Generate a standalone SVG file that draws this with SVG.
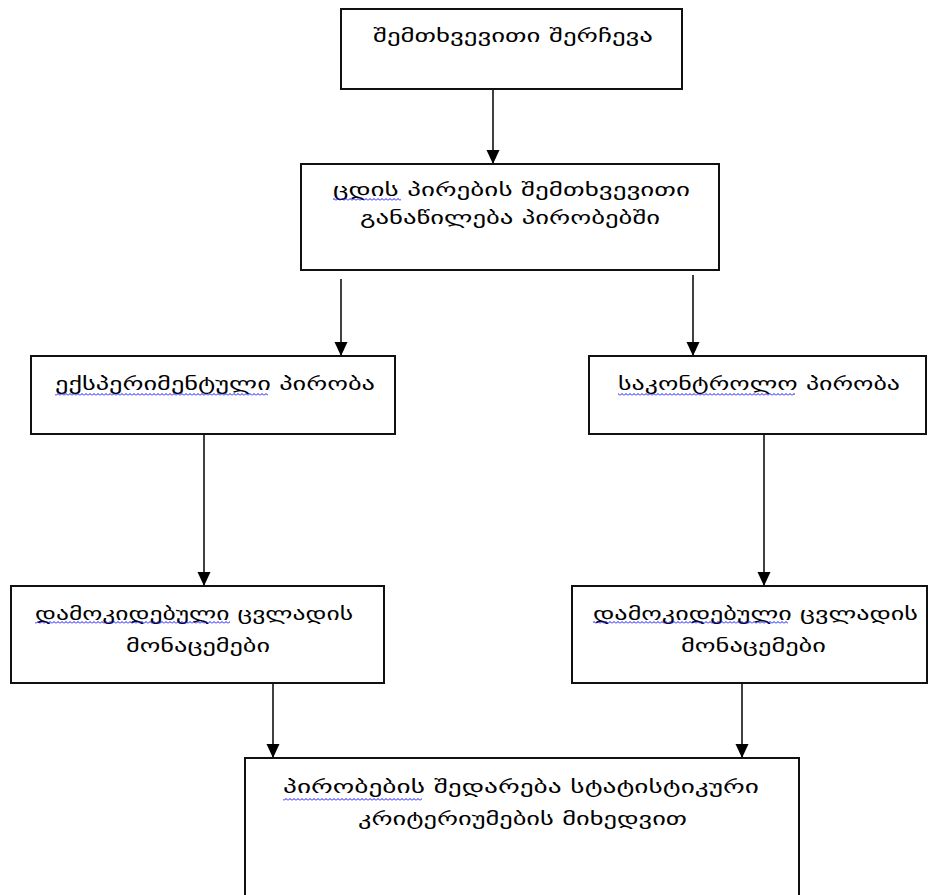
<svg xmlns="http://www.w3.org/2000/svg" width="928" height="895" viewBox="0 0 928 895">
  <style>
    .box { fill: #ffffff; stroke: #111111; stroke-width: 2; }
    .lbl { font-family: "DejaVu Sans", "Noto Sans", sans-serif; font-size: 18px; fill: #000000; text-anchor: middle; }
    .conn { stroke: #111111; stroke-width: 1.6; fill: none; marker-end: url(#arrow); }
  </style>
  <defs>
    <marker id="arrow" markerUnits="userSpaceOnUse" markerWidth="14" markerHeight="14" refX="14" refY="7" orient="auto">
      <path d="M0,0.5 L14,7 L0,13.5 z" fill="#000000"/>
    </marker>
    <pattern id="wavy" patternUnits="userSpaceOnUse" width="4" height="3">
      <path d="M0,2.5 L2,0.5 L4,2.5" fill="none" stroke="#1010ff" stroke-width="1"/>
    </pattern>
  </defs>
  <rect width="928" height="895" fill="#ffffff"/>

  <g id="connectors">
    <line class="conn" x1="493" y1="89" x2="493" y2="164"/>
    <line class="conn" x1="341" y1="279" x2="341" y2="356"/>
    <line class="conn" x1="693" y1="275" x2="693" y2="356"/>
    <line class="conn" x1="204" y1="434" x2="204" y2="586"/>
    <line class="conn" x1="764" y1="434" x2="764" y2="586"/>
    <line class="conn" x1="273" y1="683" x2="273" y2="758"/>
    <line class="conn" x1="742" y1="683" x2="742" y2="758"/>
  </g>

  <g id="node-sampling">
    <rect class="box" x="341" y="9" width="341" height="80"/>
    <text class="lbl" x="513" y="42" textLength="280" lengthAdjust="spacingAndGlyphs">შემთხვევითი შერჩევა</text>
  </g>

  <g id="node-assignment">
    <rect class="box" x="301" y="164" width="418" height="106"/>
    <text class="lbl" x="511.5" y="196" textLength="357" lengthAdjust="spacingAndGlyphs">ცდის პირების შემთხვევითი</text>
    <text class="lbl" x="510" y="224" textLength="300" lengthAdjust="spacingAndGlyphs">განაწილება პირობებში</text>
    <rect x="333" y="198" width="68" height="3" fill="url(#wavy)"/>
  </g>

  <g id="node-experimental">
    <rect class="box" x="31" y="356" width="364" height="78"/>
    <text class="lbl" x="215" y="390" textLength="320" lengthAdjust="spacingAndGlyphs">ექსპერიმენტული პირობა</text>
    <rect x="55" y="393" width="213" height="3" fill="url(#wavy)"/>
  </g>

  <g id="node-control">
    <rect class="box" x="589" y="356" width="337" height="78"/>
    <text class="lbl" x="759" y="390" textLength="282" lengthAdjust="spacingAndGlyphs">საკონტროლო პირობა</text>
    <rect x="618" y="393" width="177" height="3" fill="url(#wavy)"/>
  </g>

  <g id="node-data-left">
    <rect class="box" x="11" y="586" width="373" height="97"/>
    <text class="lbl" x="194" y="620" textLength="318" lengthAdjust="spacingAndGlyphs">დამოკიდებული ცვლადის</text>
    <text class="lbl" x="198" y="652" textLength="144" lengthAdjust="spacingAndGlyphs">მონაცემები</text>
    <rect x="35" y="621" width="195" height="3" fill="url(#wavy)"/>
  </g>

  <g id="node-data-right">
    <rect class="box" x="572" y="586" width="355" height="97"/>
    <text class="lbl" x="755.5" y="620" textLength="325" lengthAdjust="spacingAndGlyphs">დამოკიდებული ცვლადის</text>
    <text class="lbl" x="753.5" y="652" textLength="145" lengthAdjust="spacingAndGlyphs">მონაცემები</text>
    <rect x="593" y="621" width="195" height="3" fill="url(#wavy)"/>
  </g>

  <g id="node-comparison">
    <rect class="box" x="245" y="758" width="554" height="145"/>
    <text class="lbl" x="521" y="793" textLength="476" lengthAdjust="spacingAndGlyphs">პირობების შედარება სტატისტიკური</text>
    <text class="lbl" x="522.5" y="825" textLength="329" lengthAdjust="spacingAndGlyphs">კრიტერიუმების მიხედვით</text>
    <rect x="283" y="798" width="139" height="3" fill="url(#wavy)"/>
  </g>
</svg>
